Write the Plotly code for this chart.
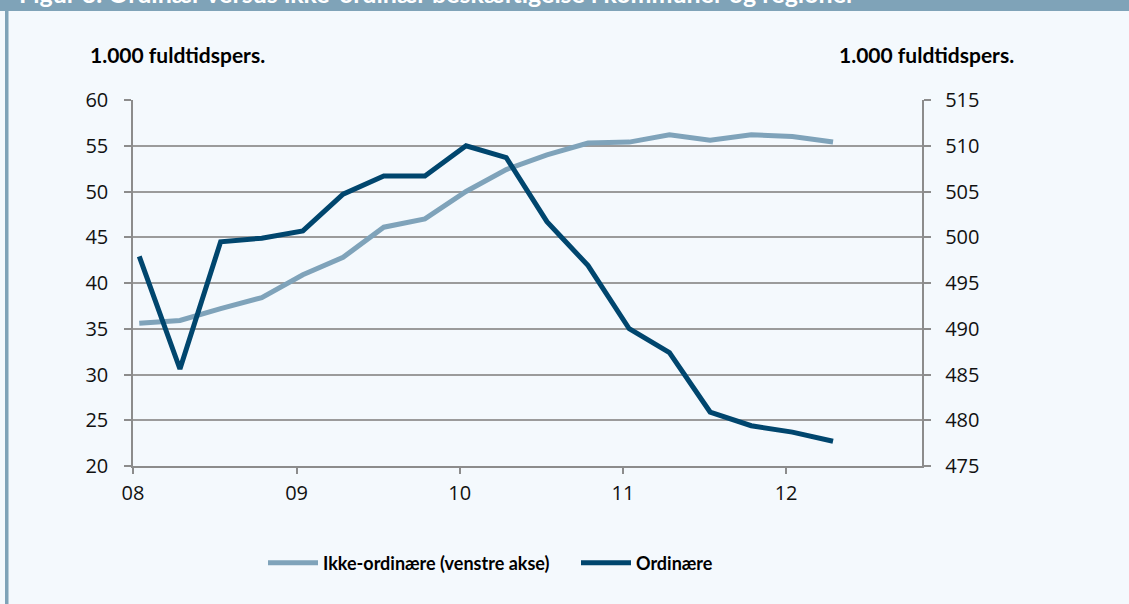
import plotly.graph_objects as go

# ---- data ----
quarters = ["2008-01-15", "2008-04-15", "2008-07-15", "2008-10-15",
            "2009-01-15", "2009-04-15", "2009-07-15", "2009-10-15",
            "2010-01-15", "2010-04-15", "2010-07-15", "2010-10-15",
            "2011-01-15", "2011-04-15", "2011-07-15", "2011-10-15",
            "2012-01-15", "2012-04-15"]
ikke_ordinaere = [35.6, 35.9, 37.2, 38.4, 40.9, 42.8, 46.1, 47.0, 50.0,
                  52.4, 54.0, 55.3, 55.4, 56.2, 55.6, 56.2, 56.0, 55.4]
ordinaere = [497.9, 485.6, 499.5, 499.9, 500.7, 504.7, 506.7, 506.7, 510.0,
             508.7, 501.7, 496.9, 490.0, 487.4, 480.9, 479.4, 478.7, 477.7]
year_ticks = ["2008-01-01", "2009-01-01", "2010-01-01", "2011-01-01", "2012-01-01"]
year_labels = ["08", "09", "10", "11", "12"]

title_text = "Figur 3. Ordinær versus ikke-ordinær beskæftigelse i kommuner og regioner"
unit_text = "1.000 fuldtidspers."

# ---- layout geometry ----
W, H = 1129, 604
ML, MR, MT, MB = 133, 207, 100, 138
PW, PH = W - ML - MR, H - MT - MB


def px(x):
    return (x - ML) / PW


def py(y):
    return (H - MB - y) / PH


BG = "#F4F9FD"
BAR = "#7FA3B8"
LIGHT = "#7FA3BA"
DARK = "#00466E"
GRID = "#9B9B9B"
TICKFONT = dict(family="Open Sans", size=20, color="#111111")

fig = go.Figure()
fig.add_trace(go.Scatter(x=quarters, y=ikke_ordinaere, name="Ikke-ordinære (venstre akse)",
                         mode="lines", line=dict(color=LIGHT, width=5), yaxis="y"))
fig.add_trace(go.Scatter(x=quarters, y=ordinaere, name="Ordinære",
                         mode="lines", line=dict(color=DARK, width=5), yaxis="y2"))

fig.update_layout(
    width=W, height=H,
    margin=dict(l=ML, r=MR, t=MT, b=MB, pad=0),
    paper_bgcolor=BG, plot_bgcolor=BG,
    showlegend=True,
    legend=dict(orientation="h", x=px(263), xanchor="left", y=py(563), yanchor="middle",
                font=dict(family="Lato", size=18, color="#000000", weight="bold"),
                bgcolor="rgba(0,0,0,0)", itemwidth=50, entrywidth=248, tracegroupgap=0),
    xaxis=dict(type="date", range=["2008-01-01", "2012-10-31"],
               tickvals=year_ticks, ticktext=year_labels,
               ticks="outside", ticklen=6, tickcolor="#8C8C8C", tickwidth=1.5,
               showline=True, linecolor="#8C8C8C", linewidth=1.5,
               showgrid=False, zeroline=False, tickfont=TICKFONT, ticklabelstandoff=2),
    yaxis=dict(range=[20, 60], dtick=5, tick0=20,
               ticks="outside", ticklen=7, tickcolor="#8C8C8C", tickwidth=1.5,
               showline=True, linecolor="#8C8C8C", linewidth=1.5,
               showgrid=True, gridcolor=GRID, gridwidth=1.5, zeroline=False,
               tickfont=TICKFONT, ticklabelstandoff=12),
    yaxis2=dict(range=[475, 515], dtick=5, tick0=475, overlaying="y", side="right",
                ticks="outside", ticklen=7, tickcolor="#8C8C8C", tickwidth=1.5,
                showline=True, linecolor="#8C8C8C", linewidth=1.5,
                showgrid=False, zeroline=False, tickfont=TICKFONT,
                tickprefix="\u00a0\u00a0"),
)

# top bar and left strip
fig.add_shape(type="rect", xref="paper", yref="paper",
              x0=px(0), x1=px(W), y0=py(11), y1=py(0), fillcolor=BAR, line_width=0, layer="above")
fig.add_shape(type="rect", xref="paper", yref="paper",
              x0=px(5), x1=px(8.5), y0=py(H), y1=py(11), fillcolor=BAR, line_width=0, layer="above")

# title (cut off at the top edge, as in the source)
fig.add_annotation(xref="paper", yref="paper", x=px(17), y=py(10), xanchor="left", yanchor="bottom",
                   text=title_text, showarrow=False,
                   font=dict(family="Lato", size=25, color="white", weight="bold"))

# axis unit labels
unit_font = dict(family="Lato", size=21, color="#000000", weight="bold")
fig.add_annotation(xref="paper", yref="paper", x=px(88), y=py(55), xanchor="left", yanchor="middle",
                   text=unit_text, showarrow=False, font=unit_font)
fig.add_annotation(xref="paper", yref="paper", x=px(1016), y=py(55), xanchor="right", yanchor="middle",
                   text=unit_text, showarrow=False, font=unit_font)

fig.write_html("out.html", post_script="document.body.style.margin='0';",
               config={"displayModeBar": False})
